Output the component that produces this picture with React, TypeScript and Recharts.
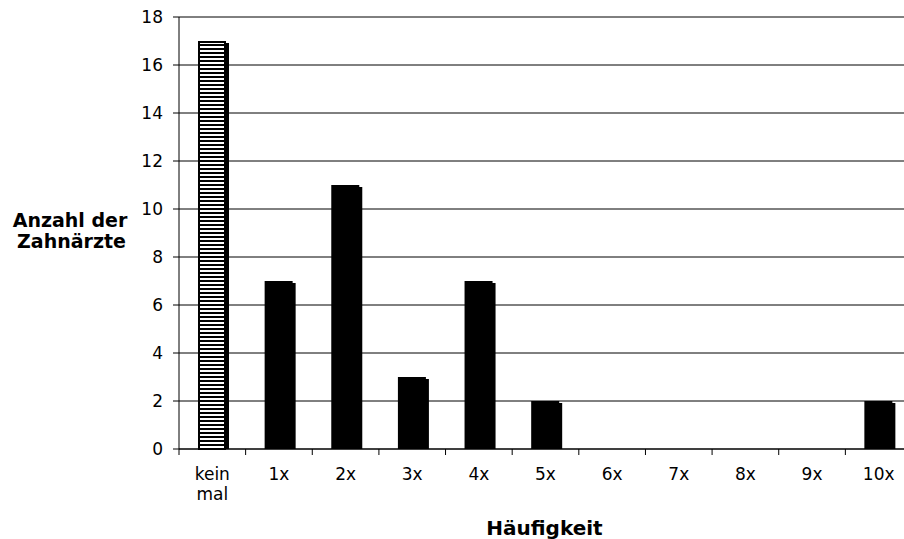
import React from 'react';
import { BarChart, Bar, XAxis, YAxis, CartesianGrid } from 'recharts';

const categories = ['kein mal', '1x', '2x', '3x', '4x', '5x', '6x', '7x', '8x', '9x', '10x'];
const counts = [17, 7, 11, 3, 7, 2, 0, 0, 0, 0, 2];
const yTicks = [0, 2, 4, 6, 8, 10, 12, 14, 16, 18];

const data = categories.map((name, i) => ({ name, value: counts[i] }));

const CHART_W = 920;
const CHART_H = 539;
const MARGIN = { top: 17, right: 8, left: 0, bottom: 0 };
const Y_AXIS_W = 179;
const X_AXIS_H = 90;
const PLOT_W = CHART_W - MARGIN.left - MARGIN.right - Y_AXIS_W;
const BAND = PLOT_W / categories.length;
const FONT = '"DejaVu Sans", Verdana, sans-serif';

const BarShape = (props: any) => {
  const { x, y, width, height, index } = props;
  if (!height || height <= 0) return null;
  const striped = index === 0;
  return (
    <g>
      <rect x={x + 3} y={y + 2} width={width} height={height - 2} fill="#000" />
      {striped ? (
        <rect
          x={x + 1}
          y={y + 1}
          width={width - 2}
          height={height - 1}
          fill="url(#hstripes)"
          stroke="#000"
          strokeWidth={2}
        />
      ) : (
        <rect x={x} y={y} width={width} height={height} fill="#000" />
      )}
    </g>
  );
};

// Horizontal grid lines run on past the right edge of the plot
const GridLine = (props: any) => {
  const { x1, y1, x2, y2 } = props;
  return <line x1={x1} y1={y1} x2={x2 + 20} y2={y2} stroke="#000" strokeWidth={1} />;
};

const XTick = (props: any) => {
  const { x, y, payload, index } = props;
  const lines = String(payload.value).split(' ');
  const left = x - BAND / 2;
  return (
    <g>
      <line x1={left} y1={y} x2={left} y2={y + 6} stroke="#000" strokeWidth={1} />
      {index === categories.length - 1 && (
        <line x1={x + BAND / 2} y1={y} x2={x + BAND / 2} y2={y + 6} stroke="#000" strokeWidth={1} />
      )}
      <text x={x} y={y + 31} textAnchor="middle" fontFamily={FONT} fontSize={17} fill="#000">
        {lines.map((l, i) => (
          <tspan key={i} x={x} dy={i === 0 ? 0 : 20}>
            {l}
          </tspan>
        ))}
      </text>
    </g>
  );
};

export default function App() {
  return (
    <div
      style={{
        position: 'absolute',
        left: 0,
        top: 0,
        width: 904,
        height: 539,
        overflow: 'hidden',
        background: '#fff',
      }}
    >
      <BarChart width={CHART_W} height={CHART_H} data={data} margin={MARGIN} barSize={28}>
        <defs>
          <pattern id="hstripes" patternUnits="userSpaceOnUse" width={8} height={4}>
            <rect x={0} y={0} width={8} height={4} fill="#fff" />
            <rect x={0} y={0} width={8} height={2} fill="#000" />
          </pattern>
        </defs>
        <CartesianGrid vertical={false} horizontal={(p: any) => <GridLine key={p.key} {...p} />} />
        <XAxis
          dataKey="name"
          height={X_AXIS_H}
          stroke="#000"
          tickLine={false}
          tickSize={0}
          tickMargin={0}
          tick={<XTick />}
          interval={0}
        />
        <YAxis
          width={Y_AXIS_W}
          domain={[0, 18]}
          ticks={yTicks}
          stroke="#000"
          tickSize={6}
          tickMargin={10}
          tick={{ fill: '#000', fontSize: 17, fontFamily: FONT }}
          interval={0}
        />
        <Bar dataKey="value" shape={<BarShape />} isAnimationActive={false} />
        <text x={70} y={227} textAnchor="middle" fontFamily={FONT} fontWeight="bold" fontSize={19} fill="#000">
          Anzahl der
        </text>
        <text x={71.5} y={248} textAnchor="middle" fontFamily={FONT} fontWeight="bold" fontSize={19} fill="#000">
          Zahnärzte
        </text>
        <text x={544.5} y={535} textAnchor="middle" fontFamily={FONT} fontWeight="bold" fontSize={20} fill="#000">
          Häufigkeit
        </text>
      </BarChart>
    </div>
  );
}
